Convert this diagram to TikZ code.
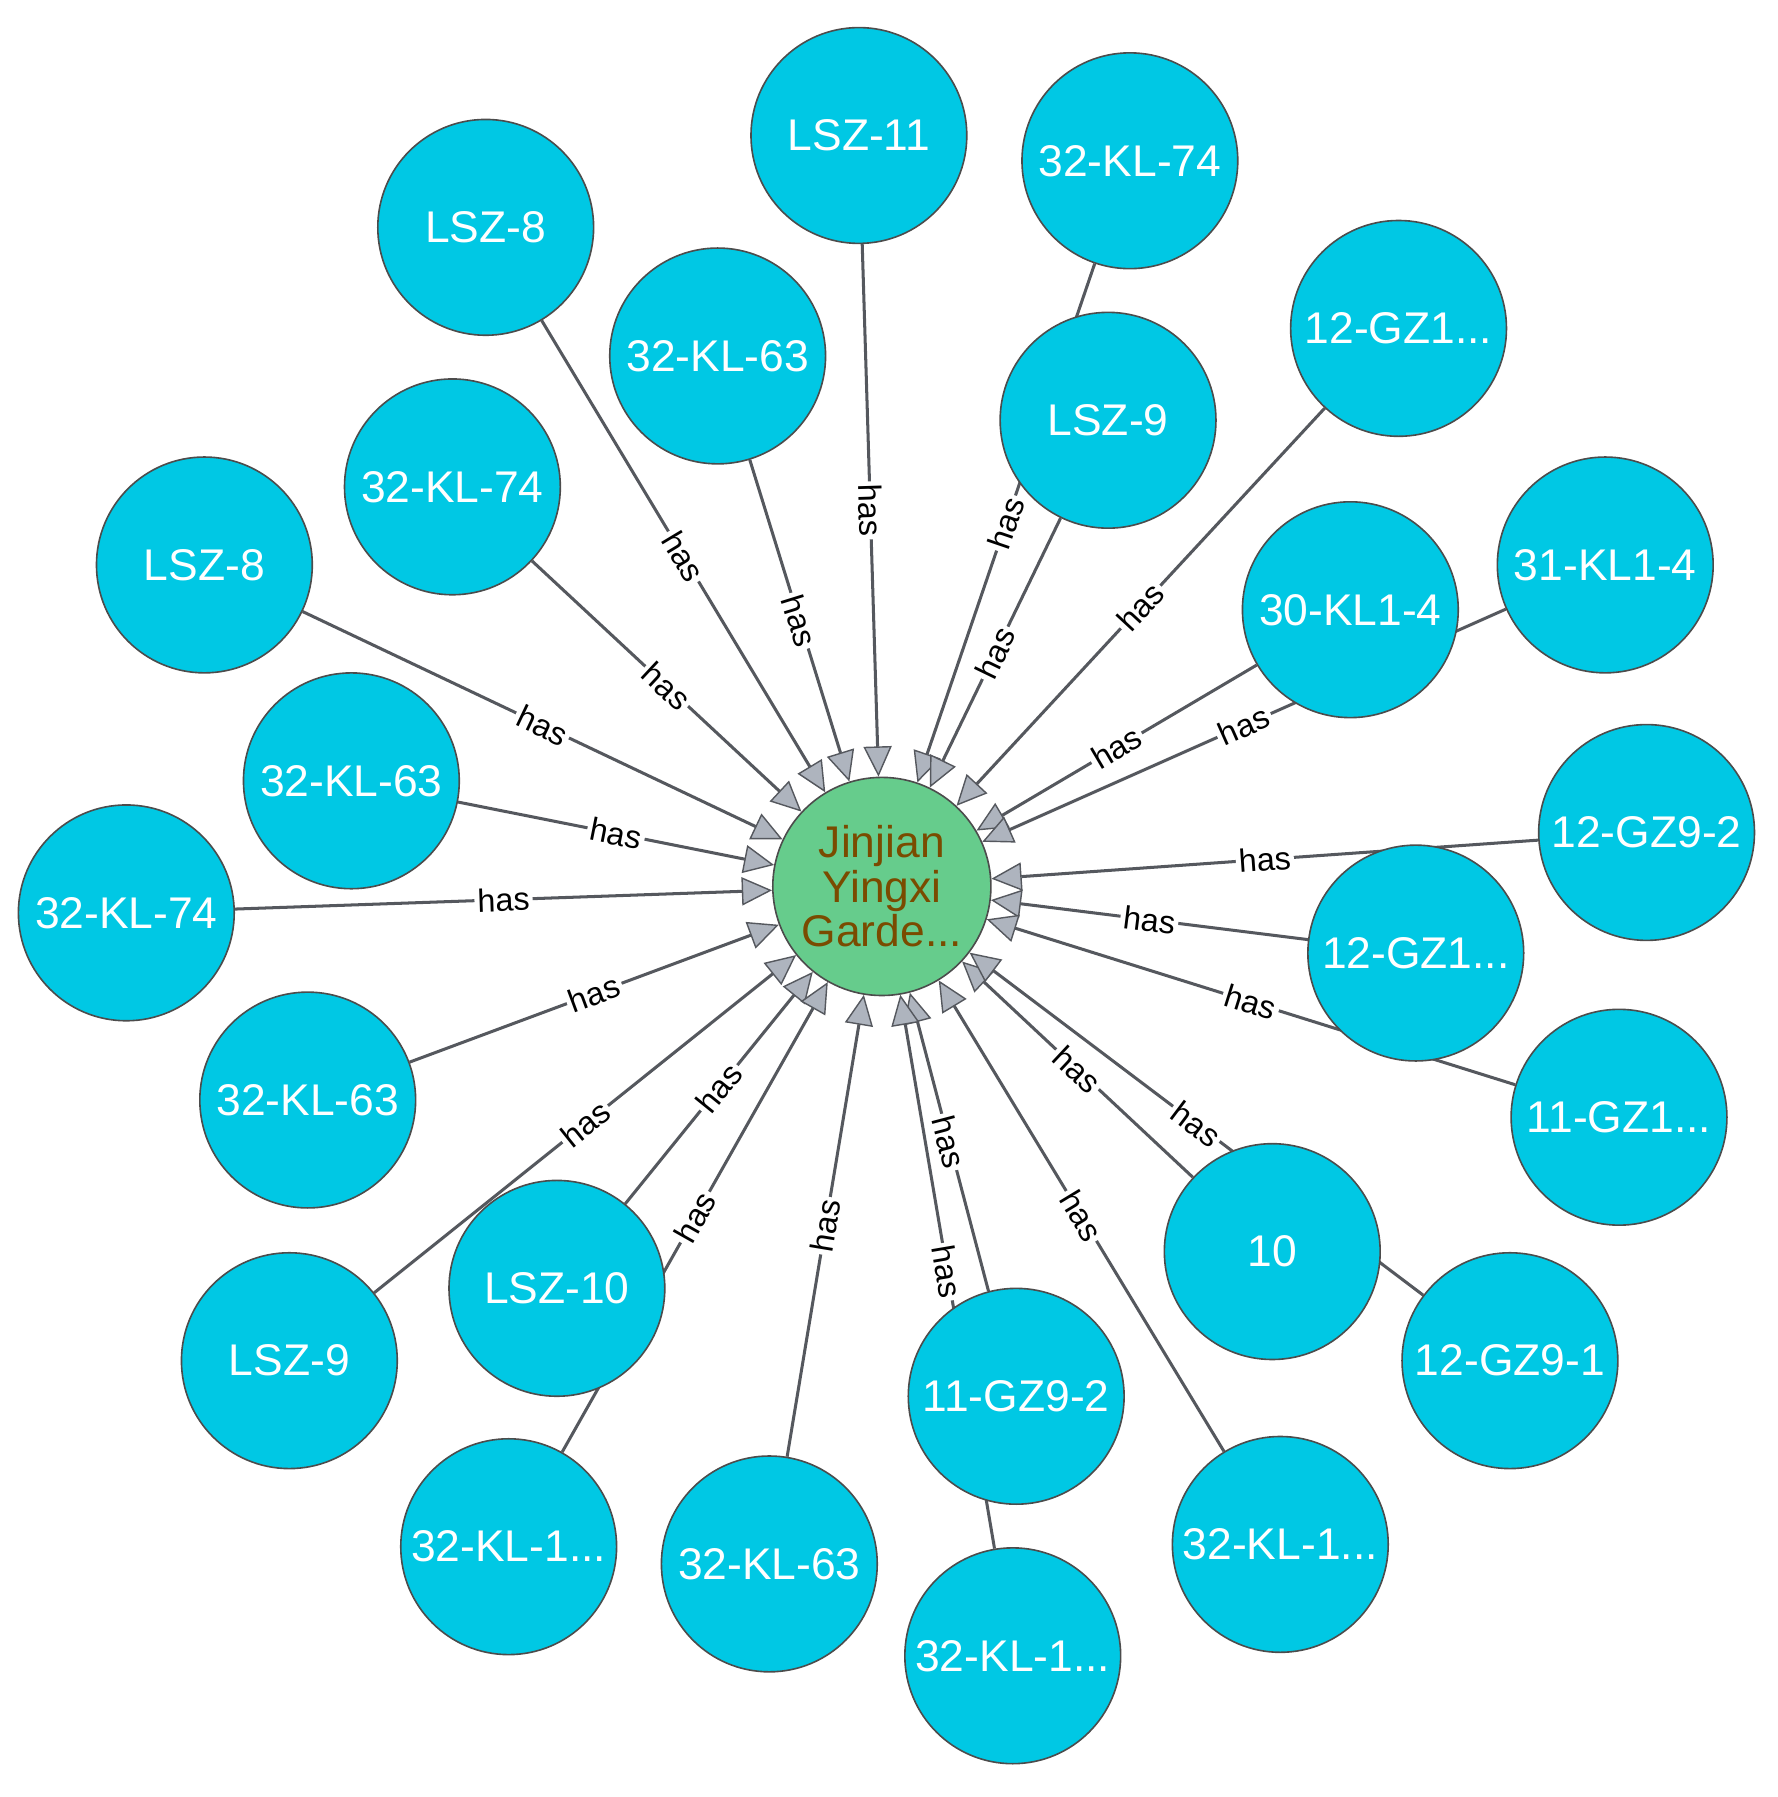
\documentclass[tikz,border=0pt]{standalone}
\usepackage{fontspec}
\setmainfont{Liberation Sans}
\usetikzlibrary{arrows.meta,backgrounds}
\definecolor{nodec}{HTML}{00C8E4}
\definecolor{cenc}{HTML}{66CC8C}
\definecolor{cent}{HTML}{7A4B00}
\definecolor{edgec}{HTML}{55585E}
\definecolor{tipc}{HTML}{AEB4BE}
\tikzset{
 nd/.style={circle,draw=black!70,line width=0.8pt,fill=nodec,minimum size=3.76cm,inner sep=0pt,text=white,font=\fontsize{22}{24}\selectfont},
 cn/.style={circle,draw=black!70,line width=0.8pt,fill=cenc,minimum size=3.8cm,inner sep=0pt,text=cent,align=center,font=\fontsize{22}{22}\selectfont},
 ed/.style={draw=edgec,line width=1.5pt,-{Triangle[length=15pt,width=14pt,fill=tipc,line width=0.7pt]}},
 lb/.style={midway,sloped,fill=white,inner sep=1.5pt,font=\fontsize{16}{16}\selectfont,text=black}
}
\begin{document}
\begin{tikzpicture}[x=0.02cm,y=-0.02cm]
\useasboundingbox (0,0) rectangle (1548,1565);
\node[cn] (c) at (768,772) {Jinjian\\Yingxi\\Garde...};
\node[nd] (n1) at (748,118) {LSZ-11};
\node[nd] (n2) at (984,140) {32-KL-74};
\node[nd] (n3) at (423,198) {LSZ-8};
\node[nd] (n4) at (625,310) {32-KL-63};
\node[nd] (n5) at (965,366) {LSZ-9};
\node[nd] (n6) at (1218,286) {12-GZ1...};
\node[nd] (n7) at (394,424) {32-KL-74};
\node[nd] (n8) at (178,492) {LSZ-8};
\node[nd] (n10) at (1398,492) {31-KL1-4};
\node[nd] (n9) at (1176,531) {30-KL1-4};
\node[nd] (n11) at (306,680) {32-KL-63};
\node[nd] (n12) at (1434,725) {12-GZ9-2};
\node[nd] (n13) at (110,795) {32-KL-74};
\node[nd] (n14) at (1233,830) {12-GZ1...};
\node[nd] (n15) at (268,958) {32-KL-63};
\node[nd] (n16) at (1410,973) {11-GZ1...};
\node[nd] (n18) at (1315,1185) {12-GZ9-1};
\node[nd] (n17) at (1108,1090) {10};
\node[nd] (n20) at (252,1185) {LSZ-9};
\node[nd] (n22) at (443,1347) {32-KL-1...};
\node[nd] (n19) at (485,1122) {LSZ-10};
\node[nd] (n25) at (882,1442) {32-KL-1...};
\node[nd] (n21) at (885,1216) {11-GZ9-2};
\node[nd] (n23) at (670,1362) {32-KL-63};
\node[nd] (n24) at (1115,1345) {32-KL-1...};
\begin{scope}[on background layer]
\foreach \n in {n1,n2,n3,n4,n5,n6,n7,n8,n9,n10,n11,n12,n13,n14,n15,n16,n17,n18,n19,n20,n21,n22,n23,n24,n25}{
 \draw[ed] (\n) -- (c) node[lb]{has};
}
\end{scope}
\end{tikzpicture}
\end{document}
